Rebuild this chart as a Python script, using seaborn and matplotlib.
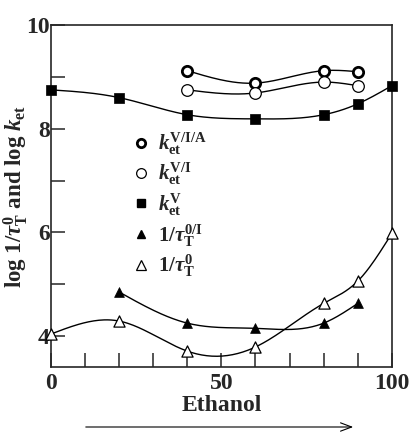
import numpy as np
import matplotlib
matplotlib.use("Agg")
import matplotlib.pyplot as plt
from matplotlib.lines import Line2D
import seaborn as sns

# Ethanol content (%) and measured log rates
x_full = [0, 20, 40, 60, 80, 90, 100]
x_mix = [40, 60, 80, 90]
x_tri = [20, 40, 60, 80, 90]

k_via = [9.12, 8.88, 9.12, 9.10]              # k_et^{V/I/A}
k_vi = [8.75, 8.69, 8.90, 8.83]               # k_et^{V/I}
k_v = [8.75, 8.60, 8.27, 8.19, 8.27, 8.48, 8.83]  # k_et^{V}
tau_0i = [4.85, 4.25, 4.15, 4.25, 4.63]       # 1/tau_T^{0/I}
tau_0 = [4.04, 4.29, 3.71, 3.79, 4.63, 5.06, 5.98]  # 1/tau_T^{0}

x_ticks = [0, 50, 100]
y_ticks = [4, 6, 8, 10]


def natural_spline(xs, ys, n=200):
    xs = np.asarray(xs, float)
    ys = np.asarray(ys, float)
    m = len(xs)
    h = np.diff(xs)
    A = np.zeros((m, m))
    b = np.zeros(m)
    A[0, 0] = A[-1, -1] = 1
    for i in range(1, m - 1):
        A[i, i - 1] = h[i - 1]
        A[i, i] = 2 * (h[i - 1] + h[i])
        A[i, i + 1] = h[i]
        b[i] = 3 * ((ys[i + 1] - ys[i]) / h[i] - (ys[i] - ys[i - 1]) / h[i - 1])
    c = np.linalg.solve(A, b)
    xf = np.linspace(xs[0], xs[-1], n)
    yf = np.empty_like(xf)
    for j, xv in enumerate(xf):
        i = min(np.searchsorted(xs, xv, side="right") - 1, m - 2)
        dx = xv - xs[i]
        bi = (ys[i + 1] - ys[i]) / h[i] - h[i] * (2 * c[i] + c[i + 1]) / 3
        di = (c[i + 1] - c[i]) / (3 * h[i])
        yf[j] = ys[i] + bi * dx + c[i] * dx ** 2 + di * dx ** 3
    return xf, yf


sns.set_style("ticks")
plt.rcParams["font.family"] = ["Liberation Serif", "DejaVu Serif"]
plt.rcParams["font.weight"] = "bold"
plt.rcParams["mathtext.fontset"] = "custom"
plt.rcParams["mathtext.rm"] = "Liberation Serif:bold"
plt.rcParams["mathtext.bf"] = "Liberation Serif:bold"
plt.rcParams["mathtext.it"] = "Liberation Serif:italic"

fig = plt.figure(figsize=(4.09, 4.32), dpi=100)
ax = fig.add_axes([0.1247, 0.150, 0.8333, 0.792])

series = [
    (x_mix, k_via, dict(marker="o", s=55, facecolor="white", edgecolor="black", linewidth=2.0)),
    (x_mix, k_vi, dict(marker="o", s=70, facecolor="white", edgecolor="black", linewidth=0.9)),
    (x_full, k_v, dict(marker="s", s=60, facecolor="black", edgecolor="black", linewidth=0.5)),
    (x_tri, tau_0i, dict(marker="^", s=50, facecolor="black", edgecolor="black", linewidth=0.5)),
    (x_full, tau_0, dict(marker="^", s=65, facecolor="white", edgecolor="black", linewidth=0.9)),
]

for xs, ys, style in series:
    xf, yf = natural_spline(xs, ys)
    ax.plot(xf, yf, color="black", linewidth=1.0, zorder=2)
    sns.scatterplot(x=xs, y=ys, ax=ax, zorder=3, clip_on=False, **style)

ax.set_xlim(0, 100)
ax.set_ylim(3.4, 10)
ax.set_xticks(np.arange(0, 101, 10))
ax.set_xticklabels([str(v) if v in x_ticks else "" for v in range(0, 101, 10)])
ax.set_yticks(np.arange(4, 11, 1))
ax.set_yticklabels([str(v) if v in y_ticks else "" for v in range(4, 11)])
ax.tick_params(direction="in", length=10, width=1.1, labelsize=17, pad=4)
ax.tick_params(axis="y", pad=1)
for sp in ax.spines.values():
    sp.set_linewidth(1.2)
    sp.set_visible(True)
for lab in ax.get_xticklabels() + ax.get_yticklabels():
    lab.set_fontweight("bold")

ax.set_xlabel("Ethanol", fontsize=17, fontweight="bold", labelpad=1)
ax.set_ylabel(r"log 1/$\mathit{\tau}_{\mathrm{T}}^{\mathrm{0}}$ and log $\mathit{k}_{\mathrm{et}}$",
              fontsize=16.5, fontweight="bold")
ax.yaxis.set_label_coords(-0.062, 0.5)

handles = [
    Line2D([], [], linestyle="none", marker="o", markersize=6, markerfacecolor="white",
           markeredgecolor="black", markeredgewidth=2.0),
    Line2D([], [], linestyle="none", marker="o", markersize=7, markerfacecolor="white",
           markeredgecolor="black", markeredgewidth=0.9),
    Line2D([], [], linestyle="none", marker="s", markersize=6, markerfacecolor="black",
           markeredgecolor="black"),
    Line2D([], [], linestyle="none", marker="^", markersize=6, markerfacecolor="black",
           markeredgecolor="black"),
    Line2D([], [], linestyle="none", marker="^", markersize=7, markerfacecolor="white",
           markeredgecolor="black", markeredgewidth=0.9),
]
labels = [
    r"$\mathit{k}_{\mathrm{et}}^{\mathrm{V/I/A}}$",
    r"$\mathit{k}_{\mathrm{et}}^{\mathrm{V/I}}$",
    r"$\mathit{k}_{\mathrm{et}}^{\mathrm{V}}$",
    r"$\mathrm{1/}\mathit{\tau}_{\mathrm{T}}^{\mathrm{0/I}}$",
    r"$\mathrm{1/}\mathit{\tau}_{\mathrm{T}}^{\mathrm{0}}$",
]
ax.legend(handles, labels, loc="upper left", bbox_to_anchor=(0.215, 0.715), frameon=False,
          fontsize=15, handlelength=0.8, handletextpad=0.4, labelspacing=0.2,
          borderaxespad=0)

# Direction arrow under the axis title
fig.patches.append(matplotlib.patches.FancyArrowPatch(
    (83 / 409, 1 - 427 / 432), (356 / 409, 1 - 427 / 432), transform=fig.transFigure,
    arrowstyle="->,head_length=8,head_width=3", color="black", linewidth=0.8))

fig.savefig("out.png", dpi=100)
